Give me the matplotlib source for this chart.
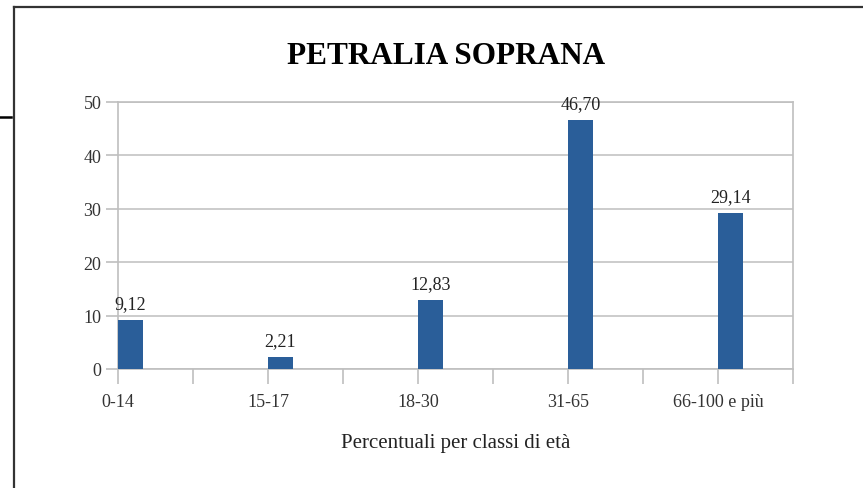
import matplotlib.pyplot as plt
from matplotlib.lines import Line2D

classi = ['0-14', '15-17', '18-30', '31-65', '66-100 e più']
percentuali = [9.12, 2.21, 12.83, 46.70, 29.14]
etichette = ['9,12', '2,21', '12,83', '46,70', '29,14']
y_ticks = [0, 10, 20, 30, 40, 50]

plt.rcParams['font.family'] = ['Liberation Serif', 'DejaVu Serif']

W, H = 863, 489
fig = plt.figure(figsize=(W / 100, H / 100), dpi=100)
ax = fig.add_axes([118 / W, 1 - 370 / H, 675 / W, 267 / H])

grigio = '#BFBFBF'
# each class takes two slots of the category axis, bars sit at the slot start
pos = [2 * i for i in range(len(classi))]
ax.bar(pos, percentuali, width=1 / 3, align='edge', color='#2A5E99', zorder=3)
for p, v, t in zip(pos, percentuali, etichette):
    ax.text(p + 1 / 6, v + 1.5, t, ha='center', va='bottom', fontsize=13, color='#222222')

ax.set_xlim(0, 9)
ax.set_ylim(0, 50)
ax.set_yticks(y_ticks)
ax.set_xticks(range(10), minor=True)
ax.set_xticks(pos)
ax.set_xticklabels(classi)
ax.tick_params(axis='x', which='both', length=11, color=grigio, width=1.2, labelsize=13,
               labelcolor='#333333', pad=6)
ax.tick_params(axis='y', length=9, color=grigio, width=1.2, labelsize=13,
               labelcolor='#333333', pad=3)
ax.grid(axis='y', color=grigio, linewidth=1.1, zorder=0)
for s in ax.spines.values():
    s.set_color(grigio)
    s.set_linewidth(1.2)

ax.set_xlabel('Percentuali per classi di età', fontsize=15, color='#222222', labelpad=17)
fig.text(446 / W, 1 - 56 / H, 'PETRALIA SOPRANA', ha='center', va='center',
         fontsize=22.5, fontweight='bold', color='black')

# outer frame of the chart box and the stray stroke on the left
fig.add_artist(Line2D([14 / W, 14 / W], [0, 1 - 8 / H], color='#333333', linewidth=1.6))
fig.add_artist(Line2D([14 / W, 1], [1 - 8 / H, 1 - 8 / H], color='#333333', linewidth=1.6))
fig.add_artist(Line2D([0, 11 / W], [1 - 118 / H, 1 - 118 / H], color='black', linewidth=1.8))

fig.savefig('out.png', dpi=100)
